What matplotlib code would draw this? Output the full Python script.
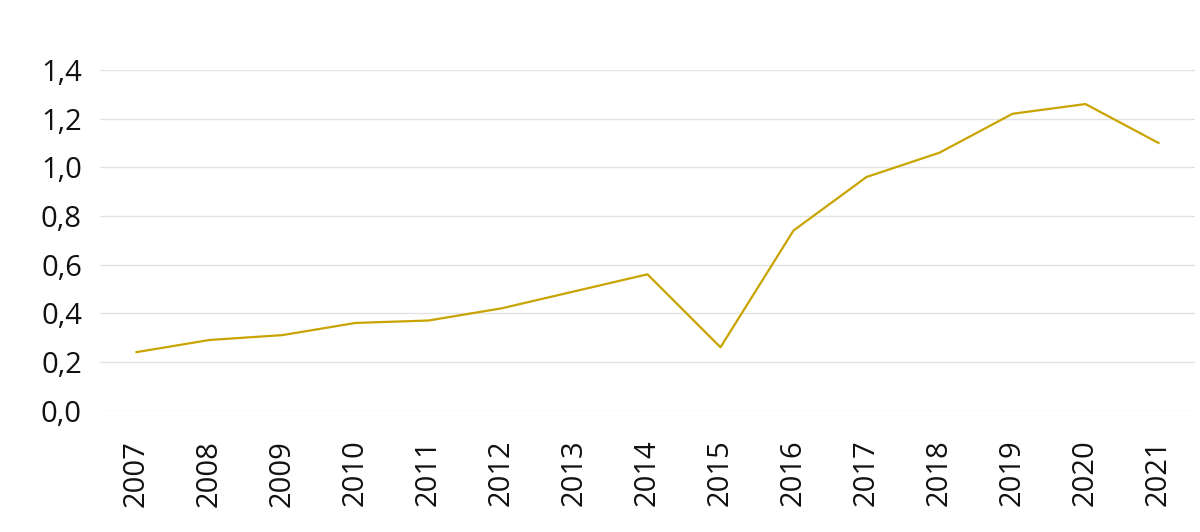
import matplotlib
matplotlib.use("Agg")
import matplotlib.pyplot as plt
from matplotlib.ticker import FuncFormatter

years = ["2007", "2008", "2009", "2010", "2011", "2012", "2013", "2014",
         "2015", "2016", "2017", "2018", "2019", "2020", "2021"]
values = [0.24, 0.29, 0.31, 0.36, 0.37, 0.42, 0.49, 0.56,
          0.26, 0.74, 0.96, 1.06, 1.22, 1.26, 1.10]
y_ticks = [0.0, 0.2, 0.4, 0.6, 0.8, 1.0, 1.2, 1.4]

plt.rcParams["font.family"] = ["Open Sans", "DejaVu Sans"]

fig = plt.figure(figsize=(12, 5.32), dpi=100)
ax = fig.add_axes([100 / 1200, 1 - 410.5 / 532, 1095 / 1200, 340.5 / 532])

x = list(range(len(years)))
ax.plot(x, values, color="#C9A400", linewidth=1.6)

ax.set_xlim(-0.5, len(years) - 0.5)
ax.set_ylim(0, 1.4)
ax.set_yticks(y_ticks)
ax.yaxis.set_major_formatter(FuncFormatter(lambda v, _: f"{v:.1f}".replace(".", ",")))
ax.set_xticks(x)
ax.set_xticklabels(years, rotation=90)

ax.grid(axis="y", color="#E3E3E3", linewidth=1)
ax.set_axisbelow(True)
for s in ax.spines.values():
    s.set_visible(False)
ax.tick_params(axis="both", length=0, labelsize=21, colors="#111111")
ax.tick_params(axis="y", pad=13)
ax.tick_params(axis="x", pad=21)

fig.savefig("out.png", dpi=100)
